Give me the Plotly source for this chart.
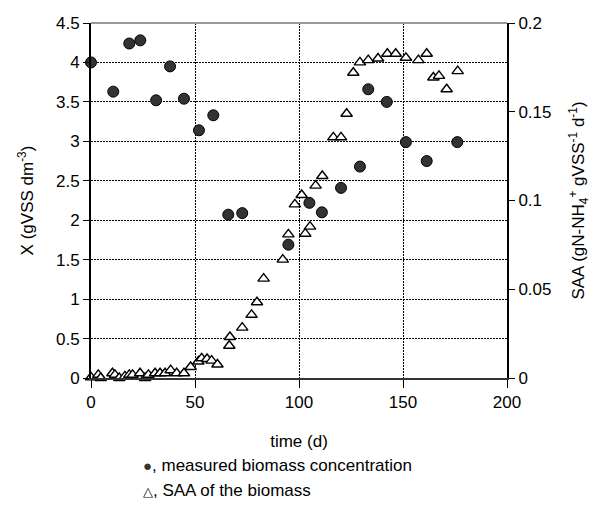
import plotly.graph_objects as go

# measured biomass concentration X (gVSS dm-3)
x_time = [0, 10.7, 18.4, 23.7, 31.3, 38, 44.7, 51.9, 58.8, 66, 72.7, 94.9, 105, 111,
          120.2, 129.3, 133.3, 142.2, 151.4, 161.4, 176.1]
x_biomass = [4.0, 3.63, 4.24, 4.28, 3.52, 3.95, 3.54, 3.14, 3.33, 2.07, 2.09, 1.69, 2.22, 2.10,
             2.41, 2.68, 3.66, 3.50, 2.99, 2.75, 2.99]

# SAA of the biomass (gN-NH4+ gVSS-1 d-1)
saa_time = [0, 3.5, 4.7, 10.3, 11.5, 13.6, 16.3, 18.4, 20, 23.6, 26, 27.6, 30.8, 33.2, 35.6,
            38.3, 41.2, 44.7, 47.9, 51.6, 53.2, 55.8, 58, 60.8, 66.5, 66.8, 72.7, 77.2, 79.8,
            83, 92.2, 94.9, 98, 101.3, 103, 105.3, 108, 111.2, 116.5, 120.2, 122.9, 126.1,
            129.3, 133.3, 138, 142.5, 146.5, 151.4, 157.4, 161.4, 164.6, 167.3, 171, 176.3]
saa_value = [0.0004, 0.0018, 0.0, 0.0027, 0.0018, 0.0, 0.0009, 0.0018, 0.0018, 0.0027, 0.0,
             0.0018, 0.0027, 0.0027, 0.0027, 0.0044, 0.0027, 0.0027, 0.0062, 0.0093, 0.0111,
             0.0107, 0.0098, 0.0076, 0.0182, 0.0231, 0.0284, 0.0356, 0.0427, 0.056, 0.0667,
             0.0809, 0.0978, 0.1031, 0.0813, 0.0853, 0.1084, 0.1138, 0.1356, 0.1356, 0.1489,
             0.172, 0.1778, 0.1791, 0.18, 0.1827, 0.1827, 0.1804, 0.1791, 0.1827, 0.1693,
             0.1702, 0.1627, 0.1729]

x_ticks = [0, 50, 100, 150, 200]
y_ticks = [0, 0.5, 1, 1.5, 2, 2.5, 3, 3.5, 4, 4.5]
y_tick_labels = ["0", "0.5", "1", "1.5", "2", "2.5", "3", "3.5", "4", "4.5"]
y2_ticks = [0, 0.05, 0.1, 0.15, 0.2]
y2_tick_labels = ["0", "0.05", "0.1", "0.15", "0.2"]

FONT = "Liberation Sans, Arial, sans-serif"
GRID_DASH = "1.5px,1.5px"

fig = go.Figure()
fig.add_trace(go.Scatter(
    x=saa_time, y=saa_value, mode="markers", yaxis="y2", cliponaxis=False,
    marker=dict(symbol="triangle-up", size=10, color="white",
                line=dict(color="black", width=1.4)),
    name="SAA"))
fig.add_trace(go.Scatter(
    x=x_time, y=x_biomass, mode="markers", cliponaxis=False,
    marker=dict(symbol="circle", size=11, color="#333333",
                line=dict(color="black", width=1)),
    name="X"))

fig.update_layout(
    width=605, height=510,
    margin=dict(l=91, r=98, t=23, b=132),
    paper_bgcolor="white", plot_bgcolor="white",
    showlegend=False,
    font=dict(family=FONT, size=17, color="black"),
    xaxis=dict(range=[0, 200], tickvals=x_ticks, showgrid=True,
               gridcolor="black", griddash=GRID_DASH, gridwidth=1,
               showline=True, linecolor="#333333", linewidth=2,
               ticks="outside", ticklen=8, tickcolor="black", zeroline=False,
               title=dict(text="time (d)", font=dict(size=17), standoff=24)),
    yaxis=dict(range=[0, 4.5], tickvals=y_ticks, ticktext=y_tick_labels,
               showgrid=True, gridcolor="black", griddash=GRID_DASH, gridwidth=1,
               showline=True, linecolor="black", linewidth=2,
               ticks="outside", ticklen=6, tickcolor="black", zeroline=False,
               title=dict(text="X (gVSS dm<sup>-3</sup>)", font=dict(size=17), standoff=18)),
    yaxis2=dict(range=[0, 0.2], tickvals=y2_ticks, ticktext=y2_tick_labels,
                overlaying="y", side="right", showgrid=False,
                showline=True, linecolor="black", linewidth=2,
                ticks="outside", ticklen=6, tickcolor="black", zeroline=False,
                title=dict(text="SAA (gN-NH<sub>4</sub><sup>+</sup> gVSS<sup>-1</sup> d<sup>-1</sup>)",
                           font=dict(size=17), standoff=22)),
)

# top border (grey)
fig.add_shape(type="line", xref="paper", yref="paper", x0=0, x1=1, y0=1, y1=1,
              line=dict(color="#999999", width=2))

# legend text below the plot
fig.add_annotation(xref="paper", yref="paper", x=(141 - 91) / 416, y=(378 - 466) / 355.3,
                   xanchor="left", yanchor="middle", showarrow=False,
                   text="<span style='font-size:15px;color:#333333'>●</span>, measured biomass concentration",
                   font=dict(size=17))
fig.add_annotation(xref="paper", yref="paper", x=(141 - 91) / 416, y=(378 - 491) / 355.3,
                   xanchor="left", yanchor="middle", showarrow=False,
                   text="<span style='font-size:13px'>△</span>, SAA of the biomass",
                   font=dict(size=17))

fig.write_html("out.html")
